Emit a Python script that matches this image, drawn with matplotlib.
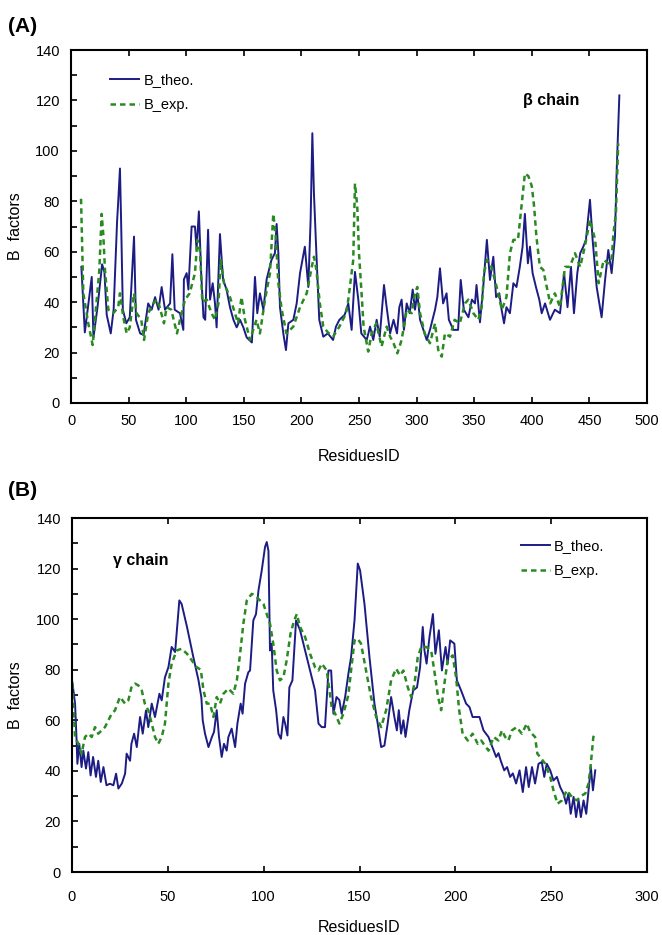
import matplotlib
matplotlib.use("Agg")
import matplotlib.pyplot as plt

plt.rcParams["font.family"] = ["Liberation Sans", "DejaVu Sans"]

# ── Colors ───────────────────────────────────────────────────────────────────
C_THEO = "#1c1c84"
C_EXP  = "#2a8a22"

# ── Data: panel A (beta chain) ───────────────────────────────────────────────
a_theo_x = [9, 12, 18, 19.5, 23, 27, 29, 31, 34.5, 37, 40, 41, 42.5, 43.5, 45, 48, 51,
            54.7, 56.4, 60, 63, 67, 70, 73, 76, 78.7, 81.6, 86, 88, 90, 94.6, 97.5, 98,
            100.4, 101.9, 104.7, 107.6, 109, 111, 113, 115, 116.5, 119, 120.7, 123, 125,
            126.4, 129.3, 132, 135, 138, 141, 143.8, 146.7, 149.6, 152.5, 157, 159.7,
            161.7, 164, 167, 169.8, 174, 177, 178.5, 180, 181.4, 184.3, 186.6, 188.7,
            193, 195.9, 198.8, 203, 206, 208, 209.5, 210.9, 213, 215.5, 219, 223, 227.5,
            230, 233, 237.6, 240.7, 243.6, 246.5, 249.4, 252, 256.7, 259.6, 262.4, 265.3,
            268, 271.7, 274, 277, 280, 283, 285, 287, 289, 291.4, 294, 296.6, 298.6,
            300.6, 303, 305.9, 308.8, 311.6, 316, 318, 320.3, 323, 326, 328, 331.9, 336,
            338.3, 341, 345, 348, 350.7, 352, 355, 358, 361, 363.7, 366.6, 369, 371.8,
            373.8, 375.9, 378, 381, 384, 386.7, 389.6, 392, 394, 396.6, 398.4, 400.7,
            403.6, 406.5, 408.6, 411.5, 415.8, 420, 424.5, 428, 431, 434, 436.6, 439.5,
            442, 444.7, 447, 450.5, 452.8, 456.3, 460.6, 463.6, 466.4, 469.3, 472.2,
            473.7, 476]
a_theo_y = [54, 28, 50, 26, 38, 55, 52, 35, 27.6, 37, 72, 80, 93, 72, 37, 31.6, 34,
            66, 33, 27.6, 27, 39.5, 37, 42, 37, 46, 37, 39.5, 59, 37, 35.6, 29, 49,
            51.5, 45, 70, 70, 61, 76, 51.5, 34, 33, 68.7, 41, 47.5, 39.5,
            30, 67, 49, 45, 38, 33, 30, 33, 30, 26, 24, 50,
            35.6, 43.5, 37, 49, 56.7, 59.4, 71, 59.4, 38, 27.6, 21, 31.6,
            33, 39.5, 51.5, 62, 46, 72.6, 107, 83, 59.4, 33, 26.3, 27.6, 25,
            30.3, 33, 35, 39.5, 29, 52, 41, 27.6, 25, 30.3, 25, 33,
            26.3, 46.8, 38, 27.6, 33, 27.6, 38, 41, 29, 39.5, 35.6, 45, 37,
            43.5, 33, 29, 25, 29, 37, 42, 53.4, 39.5, 43.5, 33, 29, 29,
            48.8, 37, 34, 41, 39.5, 46.8, 32, 47, 64.7, 48.8, 58, 42, 43.5,
            37, 31.6, 38, 35.6, 47.5, 46, 54, 62, 75, 55.4, 62, 51.5,
            46, 41, 35.6, 39.5, 33, 37, 35.6, 51.5, 38, 54, 35.6, 51.5,
            59.4, 62, 64.7, 80.6, 64.7, 46, 34, 48.8, 60.7, 51.5, 66,
            92.5, 122]

a_exp_x = [8.7, 10.7, 15, 18.8, 20.8, 24.6, 26.6, 28, 29.5, 32.4, 36.7, 41, 42.5, 45.4,
           48.3, 51, 54.7, 57, 61, 63.4, 67, 71.5, 74.4, 77, 80.7, 83, 87, 92, 94.6, 99,
           103, 107.6, 109.7, 112, 114, 117.8, 122, 125, 128, 130, 132.8, 138, 142.3,
           145, 148, 151, 155.4, 161, 164, 168.4, 172.7, 175.6, 177.6, 180, 182.9, 187,
           193, 198.8, 204.6, 209, 210.9, 213, 216, 219, 223, 227.5, 233, 238.8, 240.7,
           243.6, 245, 246.5, 248.5, 250, 251.5, 254, 258, 261, 265, 269.6, 274, 277,
           280, 283.3, 287, 291.4, 295.7, 298.6, 300.6, 303, 307, 311.6, 316, 318.8,
           321.8, 324.6, 329, 333, 337.5, 342, 345, 349.3, 353.6, 356.5, 358.5, 361,
           365, 369.5, 374, 378, 381, 384, 388, 391, 394, 397, 400, 402, 404, 407, 410,
           413, 416, 420, 424.5, 428.8, 433, 437.5, 442, 446, 450.5, 455, 458, 462.4,
           466.4, 469.3, 470.8, 473, 475]
a_exp_y = [81, 43.5, 31.6, 23, 33, 52.8, 75, 67, 52.8, 37, 35.6, 38, 43.5, 34,
           27.6, 30, 43.5, 35.6, 33, 25, 35.6, 39.5, 41, 38, 31.6, 38, 37, 27.6, 33, 41,
           43.5, 51.5, 64.7, 60, 40, 41, 35.6, 33, 39.5, 56.7, 47.5, 42, 35.6,
           31.6, 42, 33, 25, 33, 27.6, 41, 51.5, 75, 67, 47.5, 37, 27.6,
           30.3, 38, 43.5, 54, 58, 52.8, 39.5, 30.3, 28, 26.3, 30.3, 35.6, 41,
           51.5, 56.7, 87, 78, 59.4, 48.8, 30.3, 20.4, 27.6, 31.6, 22.4, 30.3, 26.3,
           23.7, 19.7, 25, 37, 35.6, 43.5, 46, 35.6, 27.6, 23.7, 31.6, 21,
           18.4, 27.6, 26.3, 33, 31.6, 39.5, 41, 35.6, 33, 38, 51.5, 56.7,
           54, 46, 37, 42, 59.4, 64.7, 64.7, 78, 91, 90, 86, 78, 66, 54, 52.8,
           46, 39.5, 43.5, 38, 54, 54, 59.4, 54, 62, 72.6, 64.7, 47.5, 56.7,
           55.4, 56.7, 67, 75, 103]

# ── Data: panel B (gamma chain) ──────────────────────────────────────────────
b_theo_x = [0.2, 1.6, 2.4, 2.8, 3.8, 5, 5.9, 7.3, 8.5, 9.7, 11, 12.5, 13.7, 15, 16.4, 18,
            19.8, 21.6, 23, 24.2, 26, 27.7, 28.5, 30.3, 31, 32.4, 33.8, 35.5, 36.9, 38.6,
            39.8, 41.6, 43.3, 45.6, 46.8, 48.5, 50.3, 52, 53.8, 55, 56, 57.2, 60, 63.3,
            66, 67.5, 68.2, 69.4, 71.2, 73, 74.1, 75.5, 76.7, 78.1, 79.3, 80.7, 81.6,
            83.3, 85.1, 86.3, 88, 89, 90.3, 92, 92.9, 94.6, 96, 97.3, 99, 100.7, 101.6,
            102.5, 103.3, 104.2, 105, 106.5, 107.7, 109, 110.3, 111.2, 112.4, 113.4, 115,
            116.9, 119, 121.6, 124.2, 126.8, 128.6, 130.3, 132, 133.8, 135.2, 136.4, 138,
            139.5, 140.7, 142.5, 144.2, 145.6, 147.4, 149.1, 150.3, 152.6, 155.2, 157.8,
            159.5, 161.3, 163, 164.7, 166.5, 168.2, 169.5, 170.5, 171.7, 172.9, 174, 176,
            178, 180, 181.6, 183, 183.9, 185, 186.5, 188.3, 189.6, 191.4, 193, 194.9, 196,
            197.3, 199.5, 200.8, 203, 205.6, 207.4, 209, 212.6, 214.7, 217.3, 220, 221.3,
            222.5, 223.7, 225.5, 227, 228.6, 230, 231.7, 233.5, 235.2, 236.9, 238.3, 240,
            241.6, 243.4, 245.1, 246.4, 247.7, 249.5, 251.2, 253, 254.7, 256.4, 257.8,
            259, 260.2, 261.7, 263, 264.3, 265.5, 266.9, 268.3, 269.5, 270.7, 271.8, 273]
b_theo_y = [75, 66.6, 52, 42.8, 50.7, 41.5, 48, 40.9, 47.4, 38.2, 45.5, 37.6, 44, 35.6, 41.5, 34.3,
            34.9, 34.3, 38.9, 33, 35, 38.9, 46.8, 44, 50.7, 54.7, 49.4, 61.3, 54.7, 63.9,
            57.3, 66.6, 61.3, 70.5, 67.9, 77, 81, 89, 87, 98, 107.4, 106, 96.9, 85,
            75.8, 69, 60, 54.7, 49.4, 53.4, 55.4, 64, 53.4, 45.5, 50.7, 48, 53.4,
            56.7, 49.4, 58.7, 66.6, 62.6, 74.5, 79, 79.7, 99.5, 102, 111.4, 119.3, 128.5, 130.5,
            127, 87.6, 90.3, 71.8, 64, 54.7, 52.7, 61.3, 58.7, 54, 73, 75.8,
            99.5, 95.6, 87.6, 79.7, 71.8, 58.7, 57.3, 57.3, 79.7, 79.7, 62.6, 69.2,
            68, 62.6, 69.2, 78.4, 85, 99.5, 122, 119.3, 106, 85, 66.6,
            58.7, 49.4, 50, 58.7, 69.2, 61.3, 56, 64, 54.7, 60, 53.4, 64,
            71.8, 73, 81, 96.9, 87.6, 82.4, 92.9, 102, 86.3, 95.6, 79.7, 89, 82.4,
            91.6, 90.3, 75.8, 71.8, 66.6, 65.2, 61.3, 61.3, 56, 53.4, 48, 45.5,
            47, 44, 40.2, 41.5, 37.6, 39, 35, 40.2, 31.6, 41.5, 33.6, 41.5,
            35, 42.8, 43.5, 37.6, 42.8, 40.2, 36.2, 37.6, 33.6, 31, 27,
            31, 23, 29.7, 21.7, 28.3, 21.7, 28.3, 23, 32.3, 41.5, 32.3, 40.2]

b_exp_x = [0.2, 1.6, 3.3, 5, 6.8, 8.5, 10.3, 12, 13.7, 15.5, 17.2, 19, 20.7, 22.4, 25, 27.7,
           29.4, 31, 32.9, 34.6, 36.4, 38, 39.8, 41.6, 43.3, 45, 46.8, 48.5, 50.3, 52,
           54.6, 57.2, 60, 62.5, 65, 67.2, 68.6, 70.3, 72, 73.8, 75.5, 77.2, 79, 81.6,
           84.2, 86, 87.7, 89.4, 91.2, 93.8, 95.5, 97.3, 99.9, 101.6, 103.3, 105, 106.8,
           108.5, 110.3, 112, 114, 115.9, 117.3, 119, 121.6, 124.2, 126.8, 128.6, 130.3,
           132.9, 135.5, 137.3, 139.5, 141.6, 143, 144.2, 145.6, 147.4, 149, 150.8,
           153.4, 156, 158.7, 161.3, 163.9, 166.5, 169.1, 171.2, 172.9, 175.2, 177,
           178.7, 180.4, 182.2, 184.8, 187.4, 189, 191, 192.6, 194.3, 196, 198.6, 200.4,
           202, 203.8, 206.5, 209, 211.7, 213.5, 214.7, 217.3, 220, 222.5, 224.3, 226,
           227.7, 229.5, 232, 234.7, 237.3, 239, 241.6, 242.8, 244.2, 246.9, 249.5,
           251.2, 253.3, 255.6, 258.2, 260.8, 263.4, 266, 267.8, 269.5, 270.7, 272, 273]
b_exp_y = [74.5, 53.4, 50.7, 46.8, 53.4, 54.7, 53.4, 57.3, 54.7, 56, 57.3, 60, 62.6, 63.9, 69.2, 66.6,
           67.9, 73, 74.5, 73.8, 71.8, 66.6, 63.9, 58.7, 53.4, 50.7, 53.4, 58.7, 74.5, 82.4,
           87.6, 88.3, 86.3, 83.7, 81, 80, 71.8, 66.6, 66.6, 61.3, 69.2, 66.6, 70.5, 72.5,
           70.5, 75.8, 86.3, 98.2, 107.4, 110, 109.4, 108, 106, 102, 98.2, 90.3, 79.7,
           75.8, 77, 83.7, 94.2, 99.5, 102, 96.9, 93, 86.3, 81, 79.7, 82.4,
           79.7, 65.2, 62.6, 58.7, 62.6, 66.6, 70, 79.7, 91.6, 92.3, 90.3,
           79.7, 69.2, 61.3, 57.3, 64, 75.8, 80.4, 77.7, 79.7, 73, 69.2,
           74.5, 85, 89, 89, 87.6, 79.7, 69.2, 64, 74.5, 83.7, 85.7, 77,
           64, 54.7, 52, 54.7, 50.7, 52, 50.7, 48, 53.4, 52, 56, 53.4,
           52, 56, 57.3, 54.7, 58.7, 55.4, 53.4, 46.8, 45.5, 42.8, 37.6,
           32.3, 27, 28.3, 32.3, 29.7, 28.3, 30.3, 31, 35, 42.8, 53.4, 54.7]

x_ticks_a = list(range(0, 501, 50))
x_ticks_b = list(range(0, 301, 50))
y_ticks = list(range(0, 141, 20))
y_minor = list(range(10, 140, 20))

# ── Figure ───────────────────────────────────────────────────────────────────
fig = plt.figure(figsize=(6.62, 9.35), dpi=100, facecolor="white")
axA = fig.add_axes([71 / 662, 1 - 403 / 935, 576 / 662, 353 / 935])
axB = fig.add_axes([72 / 662, 1 - 872 / 935, 575 / 662, 354 / 935])


def style(ax, xticks, xmax, xpad, xlab_y):
    ax.set_xlim(0, xmax)
    ax.set_ylim(0, 140)
    ax.set_xticks(xticks)
    ax.set_yticks(y_ticks)
    ax.set_yticks(y_minor, minor=True)
    for s in ax.spines.values():
        s.set_linewidth(1.5)
        s.set_color("black")
    ax.tick_params(axis="x", which="both", direction="in", top=True, bottom=True,
                   length=4, width=1.2, labelsize=10.5, pad=xpad)
    ax.tick_params(axis="y", which="both", direction="in", left=True, right=False,
                   length=4, width=1.2, labelsize=10.5, pad=8)
    ax.set_xlabel("ResiduesID", fontsize=11.5)
    ax.xaxis.set_label_coords(0.5, xlab_y)


style(axA, x_ticks_a, 500, 8, -0.13)
style(axB, x_ticks_b, 300, 13, -0.135)

# ── Lines ────────────────────────────────────────────────────────────────────
axA.plot(a_theo_x, a_theo_y, color=C_THEO, lw=1.4, label="B_theo.")
axA.plot(a_exp_x, a_exp_y, color=C_EXP, lw=1.8, dashes=(2.2, 1.6), label="B_exp.")
axB.plot(b_theo_x, b_theo_y, color=C_THEO, lw=1.4, label="B_theo.")
axB.plot(b_exp_x, b_exp_y, color=C_EXP, lw=1.8, dashes=(2.2, 1.6), label="B_exp.")

axA.legend(loc="upper left", bbox_to_anchor=(0.068, 0.935), frameon=False,
           fontsize=10.5, handlelength=2.0, borderpad=0, borderaxespad=0,
           handletextpad=0.3, labelspacing=0.75)
axB.legend(loc="upper left", bbox_to_anchor=(0.78, 0.94), frameon=False,
           fontsize=10.5, handlelength=2.0, borderpad=0, borderaxespad=0,
           handletextpad=0.3, labelspacing=0.75)

axA.text(0.785, 0.858, "β chain", transform=axA.transAxes, ha="left", va="center",
         fontsize=11.5, fontweight="bold")
axB.text(0.071, 0.88, "γ chain", transform=axB.transAxes, ha="left", va="center",
         fontsize=11.5, fontweight="bold")

# ── Panel letters and y labels ───────────────────────────────────────────────
fig.text(0.012, 1 - 27 / 935, "(A)", fontsize=15, fontweight="bold", va="center")
fig.text(0.012, 1 - 490 / 935, "(B)", fontsize=15, fontweight="bold", va="center")
fig.text(16 / 662, 1 - 226 / 935, "B  factors", rotation=90, ha="center", va="center",
         fontsize=11.5)
fig.text(16 / 662, 1 - 695 / 935, "B  factors", rotation=90, ha="center", va="center",
         fontsize=11.5)

fig.savefig("out.png", dpi=100, facecolor="white")
